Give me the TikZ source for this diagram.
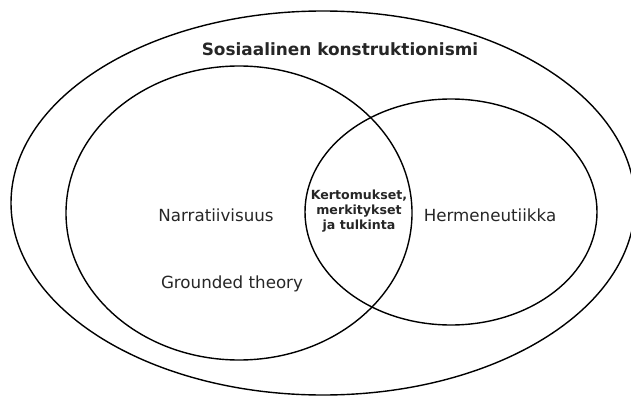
\documentclass[tikz,border=0pt]{standalone}
\usepackage{fontspec}
\setmainfont{DejaVu Sans}
\begin{document}
\begin{tikzpicture}[x=1pt,y=-1pt,
  ring/.style={draw=black,line width=1.4pt},
  label/.style={inner sep=0pt,text=black!85,font=\fontsize{16.7}{19}\selectfont},
  core/.style={inner sep=0pt,align=center,text=black!85,font=\fontsize{12.6}{14.6}\selectfont\bfseries}]
\useasboundingbox (0,0) rectangle (631,396);
\clip (0,0) rectangle (631,396);
% outer field and the two overlapping approaches
\draw[ring] (323,203) ellipse [x radius=312, y radius=192];
\draw[ring] (239,213) ellipse [x radius=173, y radius=147];
\draw[ring] (451,212) ellipse [x radius=146, y radius=113];
\node[label,font=\fontsize{16.9}{19}\selectfont\bfseries] (title) at (340,49) {Sosiaalinen konstruktionismi};
\node[label] (narr) at (216,215) {Narratiivisuus};
\node[label] (herm) at (490,215) {Hermeneutiikka};
\node[label] (gt) at (232,284) {Grounded theory};
\node[core] (mid) at (359,211) {Kertomukset,\\merkitykset\\ja tulkinta};
\end{tikzpicture}
\end{document}
